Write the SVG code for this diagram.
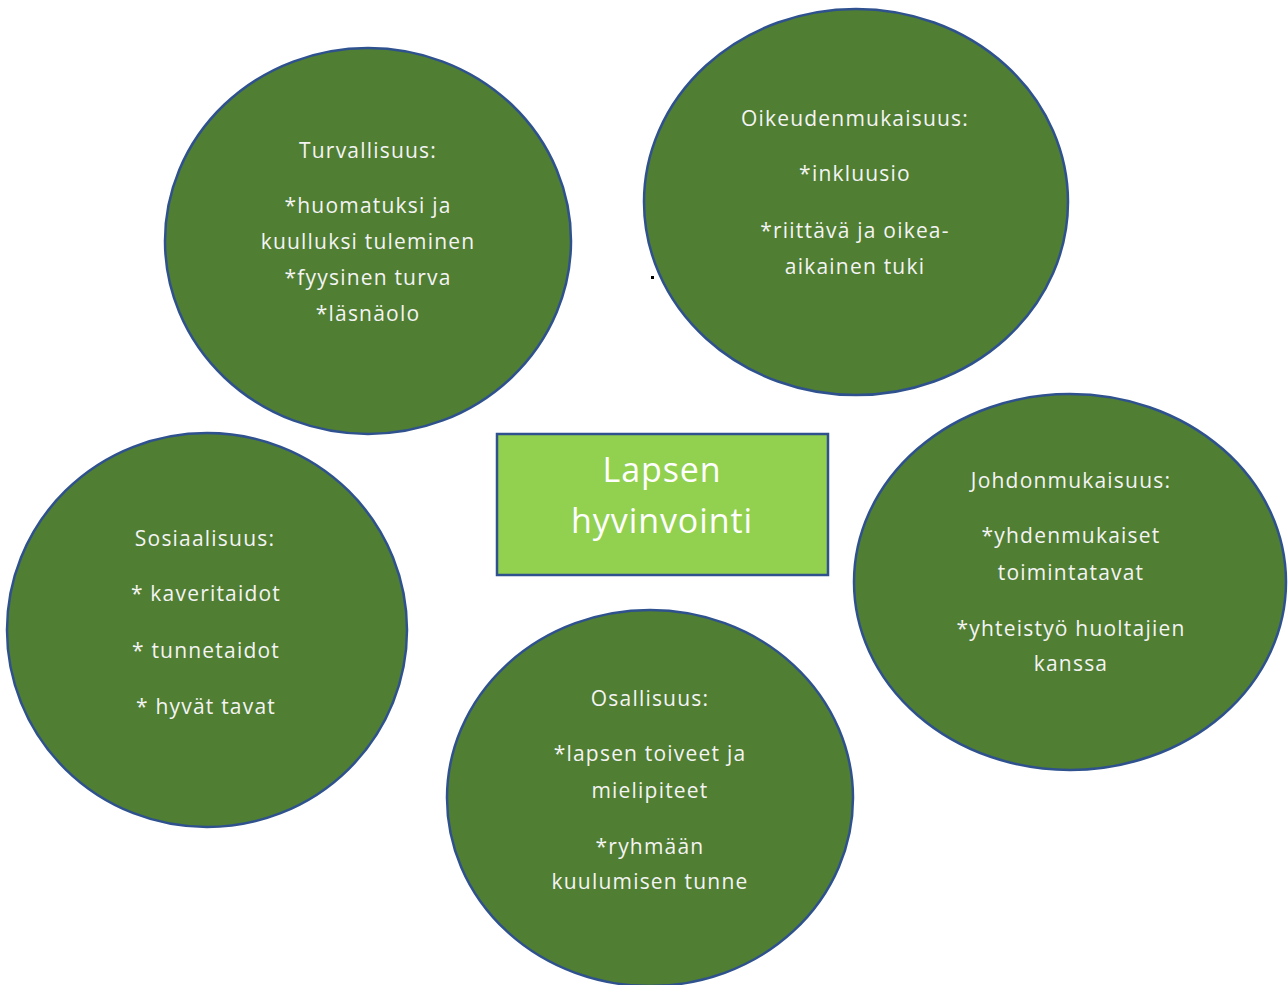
<svg xmlns="http://www.w3.org/2000/svg" width="1288" height="985" viewBox="0 0 1288 985">
<style>
.c{fill:#507E32;stroke:#2F528F;stroke-width:2.5}
.t{font-family:"Open Sans","Liberation Sans",sans-serif;font-size:21px;fill:#F4F4F4;text-anchor:middle;letter-spacing:1.2px}
.m{font-family:"Open Sans","Liberation Sans",sans-serif;font-size:34px;fill:#FFFFFF;text-anchor:middle;letter-spacing:0.9px}
</style>
<rect width="1288" height="985" fill="#FFFFFF"/>
<g id="connectors"/>
<g id="turvallisuus">
<ellipse class="c" cx="368" cy="241" rx="203" ry="193"/>
<text class="t" x="368" y="158">Turvallisuus:</text>
<text class="t" x="368" y="213">*huomatuksi ja</text>
<text class="t" x="368" y="249">kuulluksi tuleminen</text>
<text class="t" x="368" y="285">*fyysinen turva</text>
<text class="t" x="368" y="321">*läsnäolo</text>
</g>
<rect x="651" y="276" width="3" height="3" fill="#000"/>
<g id="oikeudenmukaisuus">
<ellipse class="c" cx="856" cy="202" rx="212" ry="193"/>
<text class="t" x="855" y="126">Oikeudenmukaisuus:</text>
<text class="t" x="855" y="181">*inkluusio</text>
<text class="t" x="855" y="238">*riittävä ja oikea-</text>
<text class="t" x="855" y="274">aikainen tuki</text>
</g>
<g id="sosiaalisuus">
<ellipse class="c" cx="207" cy="630" rx="200" ry="197"/>
<text class="t" x="205" y="546">Sosiaalisuus:</text>
<text class="t" x="206" y="601">* kaveritaidot</text>
<text class="t" x="206" y="658">* tunnetaidot</text>
<text class="t" x="206" y="714">* hyvät tavat</text>
</g>
<g id="johdonmukaisuus">
<ellipse class="c" cx="1070" cy="582" rx="216" ry="188"/>
<text class="t" x="1071" y="488">Johdonmukaisuus:</text>
<text class="t" x="1071" y="543">*yhdenmukaiset</text>
<text class="t" x="1071" y="580">toimintatavat</text>
<text class="t" x="1071" y="636">*yhteistyö huoltajien</text>
<text class="t" x="1071" y="671">kanssa</text>
</g>
<g id="osallisuus">
<ellipse class="c" cx="650" cy="798" rx="203" ry="188"/>
<text class="t" x="650" y="706">Osallisuus:</text>
<text class="t" x="650" y="761">*lapsen toiveet ja</text>
<text class="t" x="650" y="798">mielipiteet</text>
<text class="t" x="650" y="854">*ryhmään</text>
<text class="t" x="650" y="889">kuulumisen tunne</text>
</g>
<g id="lapsen-hyvinvointi">
<rect x="497" y="434" width="331" height="141" fill="#92D050" stroke="#2F528F" stroke-width="2.5"/>
<text class="m" x="662" y="482">Lapsen</text>
<text class="m" x="662" y="533">hyvinvointi</text>
</g>
</svg>
